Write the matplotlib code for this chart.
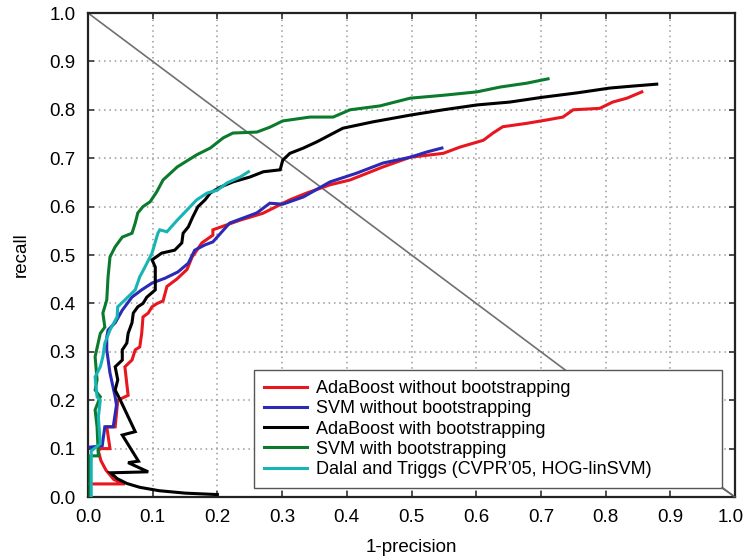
import matplotlib
matplotlib.use("Agg")
import matplotlib.pyplot as plt
import matplotlib.transforms as mtransforms
from matplotlib.lines import Line2D

plt.rcParams['font.family'] = ['Liberation Sans', 'DejaVu Sans']

# Precision/recall curves (x = 1-precision, y = recall)
ada_nb_x = [0.003, 0.057, 0.04, 0.028, 0.02, 0.016, 0.019, 0.034, 0.029, 0.042, 0.046, 0.062,
            0.057, 0.068, 0.073, 0.08, 0.083, 0.085, 0.093, 0.099, 0.107, 0.116, 0.122, 0.137,
            0.153, 0.161, 0.176, 0.193, 0.193, 0.235, 0.27, 0.312, 0.338, 0.374, 0.405, 0.456,
            0.498, 0.549, 0.575, 0.611, 0.626, 0.641, 0.678, 0.709, 0.734, 0.75, 0.791, 0.811,
            0.833, 0.856]
ada_nb_y = [0.027, 0.027, 0.036, 0.055, 0.075, 0.095, 0.10, 0.10, 0.145, 0.145, 0.20, 0.21,
            0.269, 0.283, 0.304, 0.31, 0.338, 0.372, 0.38, 0.393, 0.40, 0.405, 0.435, 0.45,
            0.47, 0.496, 0.525, 0.541, 0.552, 0.572, 0.586, 0.614, 0.628, 0.645, 0.655, 0.682,
            0.702, 0.71, 0.723, 0.737, 0.752, 0.765, 0.772, 0.779, 0.785, 0.80, 0.803, 0.816,
            0.824, 0.837]

svm_nb_x = [0.003, 0.022, 0.026, 0.039, 0.044, 0.042, 0.034, 0.029, 0.029, 0.031, 0.042, 0.053,
            0.068, 0.083, 0.099, 0.119, 0.139, 0.155, 0.165, 0.181, 0.193, 0.219, 0.261, 0.281,
            0.301, 0.333, 0.374, 0.415, 0.456, 0.498, 0.524, 0.547]
svm_nb_y = [0.103, 0.106, 0.145, 0.145, 0.19, 0.207, 0.256, 0.304, 0.33, 0.345, 0.36, 0.386,
            0.413, 0.428, 0.442, 0.452, 0.465, 0.483, 0.51, 0.521, 0.527, 0.566, 0.587, 0.607,
            0.605, 0.62, 0.651, 0.669, 0.69, 0.702, 0.713, 0.721]

ada_b_x = [0.2, 0.15, 0.11, 0.08, 0.06, 0.045, 0.035, 0.093, 0.062, 0.078, 0.053, 0.073, 0.05,
           0.042, 0.046, 0.042, 0.053, 0.053, 0.06, 0.062, 0.068, 0.07, 0.077, 0.085, 0.091,
           0.104, 0.104, 0.099, 0.114, 0.134, 0.145, 0.147, 0.155, 0.162, 0.17, 0.181, 0.189,
           0.204, 0.224, 0.25, 0.271, 0.297, 0.301, 0.312, 0.333, 0.354, 0.374, 0.394, 0.44,
           0.498, 0.549, 0.601, 0.652, 0.703, 0.756, 0.807, 0.842, 0.879]
ada_b_y = [0.005, 0.008, 0.013, 0.02, 0.028, 0.038, 0.05, 0.052, 0.071, 0.074, 0.128, 0.135, 0.20,
           0.221, 0.242, 0.269, 0.283, 0.304, 0.318, 0.338, 0.36, 0.38, 0.393, 0.40, 0.413,
           0.428, 0.475, 0.49, 0.504, 0.51, 0.525, 0.545, 0.558, 0.579, 0.60, 0.614, 0.628,
           0.64, 0.651, 0.661, 0.672, 0.676, 0.696, 0.71, 0.721, 0.734, 0.748, 0.762, 0.775,
           0.789, 0.80, 0.81, 0.816, 0.826, 0.835, 0.845, 0.849, 0.853]

svm_b_x = [0.003, 0.003, 0.016, 0.014, 0.011, 0.019, 0.011, 0.014, 0.011, 0.019, 0.026, 0.023,
           0.029, 0.031, 0.034, 0.042, 0.053, 0.068, 0.073, 0.077, 0.085, 0.096, 0.106, 0.116,
           0.138, 0.168, 0.189, 0.209, 0.224, 0.261, 0.281, 0.301, 0.343, 0.379, 0.405, 0.451,
           0.498, 0.549, 0.601, 0.637, 0.678, 0.711]
svm_b_y = [0.0, 0.085, 0.085, 0.145, 0.18, 0.207, 0.221, 0.242, 0.29, 0.338, 0.351, 0.38,
           0.407, 0.455, 0.496, 0.517, 0.537, 0.545, 0.566, 0.587, 0.60, 0.61, 0.63, 0.655,
           0.682, 0.707, 0.721, 0.742, 0.752, 0.754, 0.764, 0.777, 0.785, 0.785, 0.80, 0.808,
           0.824, 0.83, 0.837, 0.847, 0.855, 0.864]

dalal_x = [0.005, 0.005, 0.019, 0.016, 0.019, 0.014, 0.011, 0.019, 0.023, 0.026, 0.034, 0.045,
           0.046, 0.057, 0.073, 0.08, 0.088, 0.099, 0.108, 0.111, 0.122, 0.138, 0.153, 0.168,
           0.184, 0.2, 0.215, 0.235, 0.248]
dalal_y = [0.0, 0.095, 0.11, 0.165, 0.2, 0.207, 0.248, 0.269, 0.29, 0.318, 0.345, 0.372,
           0.393, 0.407, 0.428, 0.455, 0.475, 0.504, 0.545, 0.552, 0.548, 0.572, 0.593, 0.614,
           0.628, 0.634, 0.649, 0.661, 0.672]

labels = ["AdaBoost without bootstrapping", "SVM without bootstrapping",
          "AdaBoost with bootstrapping", "SVM with bootstrapping",
          "Dalal and Triggs (CVPR\u201905, HOG-linSVM)"]
colors = ["#e8161e", "#2c2ab4", "#000000", "#0b7a2c", "#16b4b4"]
ticks = [0.0, 0.1, 0.2, 0.3, 0.4, 0.5, 0.6, 0.7, 0.8, 0.9, 1.0]

fig = plt.figure(figsize=(7.46, 5.59), dpi=100)
ax = fig.add_axes([88 / 746, 1 - 497 / 559, 647 / 746, 484 / 559])

# equal precision/recall diagonal
ax.plot([0, 1], [1, 0], color="#707070", lw=1.2, zorder=2)

series = [(ada_nb_x, ada_nb_y), (svm_nb_x, svm_nb_y), (ada_b_x, ada_b_y),
          (svm_b_x, svm_b_y), (dalal_x, dalal_y)]
for (xs, ys), c in zip(series, colors):
    ax.plot(xs, ys, color=c, lw=2.2, solid_joinstyle="miter", zorder=3)

ax.set_xlim(0, 1)
ax.set_ylim(0, 1)
ax.set_xticks(ticks)
ax.set_yticks(ticks)
ax.set_xticklabels([f"{t:.1f}" for t in ticks])
ax.set_yticklabels([f"{t:.1f}" for t in ticks])
ax.tick_params(direction="in", length=4, width=1.2, top=True, right=True,
               labelsize=13.5, pad=9, color="#333333")
ax.grid(True, linestyle=(0, (1, 2.5)), color="#9a9a9a", lw=1.1)
for s in ax.spines.values():
    s.set_linewidth(1.6)
    s.set_color("#222222")

# keep the last x tick label inside the figure edge
last = ax.get_xticklabels()[-1]
last.set_transform(last.get_transform() +
                   mtransforms.ScaledTranslation(-4 / 100, 0, fig.dpi_scale_trans))

ax.set_xlabel("1-precision", fontsize=13.5, labelpad=9)
ax.set_ylabel("recall", fontsize=13.5, labelpad=14)

handles = [Line2D([0], [0], color=c, lw=2.2) for c in colors]
leg = ax.legend(handles, labels, loc="lower left",
                bbox_to_anchor=(0.2566, 0.0186, 0.723, 0.246), mode="expand",
                borderaxespad=0, fancybox=False, framealpha=1, edgecolor="#555555",
                fontsize=13, handlelength=2.4, handletextpad=0.5, labelspacing=0.18,
                borderpad=0.55)
leg.get_frame().set_linewidth(1.0)
leg.set_zorder(5)
# bevel from the legend corner to the axes corner
ax.plot([0.2566 + 0.723, 1.0], [0.0186, 0.0], color="#666666", lw=1.0, zorder=6,
        transform=ax.transAxes, clip_on=False)

fig.savefig("out.png", dpi=100)
